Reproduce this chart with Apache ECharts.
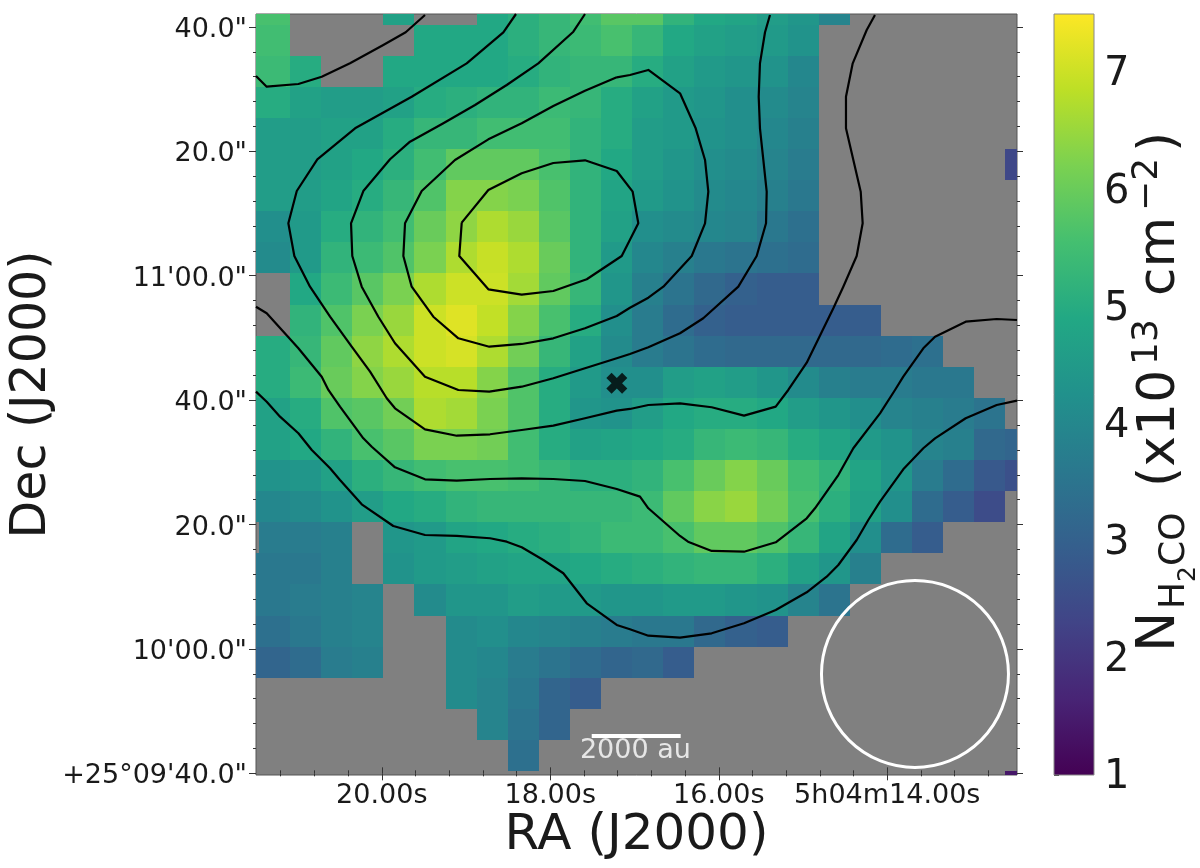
<!DOCTYPE html>
<html><head><meta charset="utf-8">
<style>html,body{margin:0;padding:0;background:#fff}#c{width:1200px;height:868px}</style>
<script src="https://cdn.jsdelivr.net/npm/echarts@6/dist/echarts.min.js"></script>
</head><body><div id="c"></div>
<script>
const _ = null;
// Column density per map pixel; each row runs from the east edge (left) to the west edge (right).
const row00=[5.6,5.6,_,_,_,4.7,_,_,4.9,5.1,5.3,5.5,5.8,5.8,5.2,4.9,4.8,4.6,4.4,3.9,_,_,_,_,_,_];
const row01=[5.5,5.5,_,_,_,_,4.9,4.9,4.9,5.1,5.3,5.4,5.6,5.3,4.9,4.7,4.6,4.5,4.3,_,_,_,_,_,_,_];
const row02=[5.4,5.4,5.0,_,_,4.9,4.9,4.9,4.9,5.0,5.2,5.3,5.3,5.0,4.7,4.5,4.4,4.3,4.0,_,_,_,_,_,_,_];
const row03=[5.0,5.0,4.7,4.6,4.6,4.7,5.0,5.1,5.2,5.2,5.4,5.3,5.0,4.7,4.5,4.4,4.2,4.1,3.9,_,_,_,_,_,_,_];
const row04=[4.6,4.6,4.6,4.7,4.7,5.0,5.3,5.3,5.5,5.5,5.5,5.2,5.0,4.6,4.5,4.3,4.2,4.0,3.8,_,_,_,_,_,_,_];
const row05=[4.6,4.6,4.6,4.7,4.9,5.1,5.5,5.9,5.9,5.9,5.6,5.2,4.9,4.6,4.4,4.2,4.1,3.9,3.7,_,_,_,_,_,_,2.4];
const row06=[4.6,4.6,4.6,4.8,5.0,5.3,5.7,6.3,6.3,6.2,5.7,5.2,4.8,4.5,4.3,4.1,4.0,3.8,3.6,_,_,_,_,_,_,_];
const row07=[4.2,4.2,4.5,5.0,5.2,5.5,6.0,6.4,6.7,6.5,5.8,5.2,4.7,4.2,4.1,4.0,3.9,3.6,3.4,_,_,_,_,_,_,_];
const row08=[4.1,4.1,4.5,5.2,5.4,5.7,6.2,6.7,6.95,6.7,6.0,5.2,4.5,4.0,3.8,3.6,3.5,3.4,3.3,_,_,_,_,_,_,_];
const row09=[_,_,4.9,5.4,5.8,6.2,6.7,7.0,7.0,6.6,5.9,5.3,4.4,3.8,3.5,3.2,3.0,2.9,2.9,_,_,_,_,_,_,_];
const row10=[_,_,5.2,5.7,6.2,6.5,7.0,7.2,6.9,6.3,5.6,5.0,4.2,3.7,3.3,3.0,2.9,2.9,2.9,2.9,2.9,_,_,_,_,_];
const row11=[5.0,5.0,5.3,5.9,6.4,6.7,7.0,7.1,6.7,6.1,5.3,4.7,4.1,3.7,3.5,3.3,3.2,3.2,3.2,3.2,3.2,3.3,3.4,_,_,_];
const row12=[5.0,5.0,5.4,6.0,6.3,6.5,6.8,6.8,6.3,5.7,5.0,4.5,4.2,4.2,4.6,4.7,4.6,4.4,4.1,3.8,3.7,3.7,3.6,3.6,_,_];
const row13=[4.7,4.7,5.0,5.7,5.8,6.1,6.7,6.6,6.2,5.7,5.0,4.4,4.3,4.6,4.9,5.0,5.0,4.9,4.6,4.4,4.2,3.9,3.8,3.7,3.5,_];
const row14=[4.7,4.7,4.9,5.2,5.6,5.8,6.2,6.2,6.1,5.5,5.0,4.7,4.8,4.9,5.0,5.3,5.4,5.3,5.0,4.8,4.5,4.3,3.9,3.8,3.2,3.1];
const row15=[4.3,4.3,4.4,4.7,5.1,5.3,5.5,5.6,5.6,5.5,5.3,5.1,5.1,5.2,5.6,6.0,6.3,6.0,5.5,5.2,4.8,4.4,3.7,3.3,2.8,2.6];
const row16=[4.0,4.0,4.1,4.3,4.6,4.9,5.0,5.2,5.3,5.3,5.3,5.3,5.3,5.4,5.9,6.35,6.5,6.1,5.6,5.1,4.7,4.2,3.3,2.9,2.5,_];
const row17=[_,3.7,3.7,3.8,_,4.4,4.5,4.8,4.9,5.0,5.1,5.2,5.4,5.4,5.6,5.9,5.9,5.7,5.3,4.8,4.2,3.3,2.9,_,_,_];
const row18=[3.6,3.6,3.6,3.8,_,4.3,4.5,4.6,4.7,4.8,4.8,4.9,5.0,5.1,5.2,5.3,5.3,5.1,4.7,4.4,3.8,_,_,_,_,_];
const row19=[3.6,3.6,3.7,3.8,3.9,_,4.1,4.4,4.4,4.6,4.5,4.5,4.4,4.4,4.5,4.5,4.4,4.3,3.9,3.5,_,_,_,_,_,_];
const row20=[3.4,3.4,3.6,3.8,3.9,_,_,4.1,4.2,4.0,3.9,3.8,3.7,3.6,3.6,3.2,3.0,2.9,_,_,_,_,_,_,_,_];
const row21=[3.1,3.1,3.3,3.7,3.8,_,_,4.1,4.0,3.7,3.5,3.3,3.1,3.2,2.9,_,_,_,_,_,_,_,_,_,_,_];
const row22=[_,_,_,_,_,_,_,4.1,3.9,3.6,3.1,2.9,_,_,_,_,_,_,_,_,_,_,_,_,_,_];
const row23=[_,_,_,_,_,_,_,_,3.9,3.5,3.1,_,_,_,_,_,_,_,_,_,_,_,_,_,_,_];
const row24=[_,_,_,_,_,_,_,_,_,3.4,_,_,_,_,_,_,_,_,_,_,_,_,_,_,_,_];
const row25=[_,_,_,_,_,_,_,_,_,_,_,_,_,_,_,_,_,_,_,_,_,_,_,_,_,1.4];
const rows=[row00,row01,row02,row03,row04,row05,row06,row07,row08,row09,row10,row11,row12,row13,row14,row15,row16,row17,row18,row19,row20,row21,row22,row23,row24,row25];

// Map pixel layout: [RA seconds, Dec arcsec past 25d09m40s]
const raFirstEdge=21.827, raStep=0.36913, decFirstEdge=125.36, decStep=5;

// Contours, [RA s, Dec offset "]
const contourA=[[19.051,88.53],[18.735,93.78],[18.339,96.47],[17.964,98.12],[17.588,98.56],[17.211,96.84],[17.022,93.51],[16.955,88.43],[17.152,83.17],[17.567,79.43],[17.964,77.55],[18.339,76.95],[18.735,77.82],[19.080,83.17],[19.051,88.53]];
const contourB=[[17.211,111.90],[17.588,109.75],[17.964,107.29],[18.339,104.51],[18.735,101.93],[19.131,98.61],[19.526,93.62],[19.724,88.43],[19.744,83.17],[19.645,78.24],[19.388,73.41],[19.091,69.94],[18.724,68.59],[18.339,69.03],[17.964,69.94],[17.588,71.55],[17.211,73.53],[17.054,74.86],[16.836,76.47],[16.658,78.24],[16.321,83.17],[16.163,88.43],[16.124,93.51],[16.163,98.61],[16.274,103.70],[16.460,109.33],[16.836,113.08],[17.054,112.27],[17.211,111.90]];
const contourC=[[17.588,122.08],[17.726,119.23],[18.142,114.15],[18.517,110.66],[18.893,107.45],[19.269,104.51],[19.665,101.55],[19.902,98.72],[20.219,93.62],[20.365,88.43],[20.350,83.17],[20.238,78.24],[20.041,73.41],[19.843,69.14],[19.487,63.77],[19.091,61.63],[18.724,61.36],[18.339,62.16],[17.964,63.51],[17.588,65.12],[17.211,66.73],[17.054,67.42],[16.836,68.49],[16.460,70.75],[16.184,73.16],[15.768,78.24],[15.550,83.17],[15.439,88.43],[15.431,93.51],[15.471,98.61],[15.511,103.70],[15.526,108.78],[15.511,114.15],[15.451,119.14],[15.392,121.92]];
const contourD=[[18.407,122.08],[18.557,119.14],[18.992,114.15],[19.645,108.78],[20.317,103.70],[20.765,98.72],[21.009,93.62],[21.109,88.43],[21.038,83.17],[20.852,78.24],[20.614,73.41],[20.357,68.59],[20.139,64.57],[19.941,60.30],[19.843,58.69],[19.487,55.31],[19.110,54.28],[18.715,54.51],[18.339,55.20],[17.964,55.89],[17.588,57.08],[17.211,58.31],[17.054,58.58],[16.836,59.22],[16.460,59.49],[16.084,58.85],[15.700,57.50],[15.324,58.95],[15.175,61.63],[14.956,66.02],[14.640,74.76],[14.522,78.24],[14.363,83.17],[14.292,88.43],[14.315,93.51],[14.490,103.70],[14.490,108.78],[14.410,114.15],[14.244,119.51],[14.146,121.92]];
const contourE=[[21.493,112.11],[21.366,110.39],[20.990,110.83],[20.713,112.00],[20.377,114.15],[19.982,117.09],[19.716,119.14],[19.487,121.92]];
const contourF=[[21.493,75.02],[21.366,73.96],[20.990,68.33],[20.713,63.77],[20.634,61.63],[20.496,58.95],[20.219,53.86],[20.119,52.51],[19.843,49.20],[19.487,47.27],[19.110,47.05],[18.715,47.32],[18.339,47.43],[17.964,47.32],[17.588,47.00],[17.211,45.71],[16.935,44.48],[16.836,42.61],[16.460,38.16],[16.365,37.24],[16.084,35.75],[15.700,35.63],[15.324,37.14],[14.956,41.00],[14.858,42.61],[14.581,47.96],[14.403,52.26],[14.086,57.88],[13.908,61.63],[13.810,63.77],[13.572,68.33],[13.433,70.20],[13.069,72.61],[12.701,73.04],[12.460,72.88]];
const contourG=[[21.493,61.36],[21.366,59.75],[21.208,57.34],[20.990,54.67],[20.831,51.98],[20.614,49.04],[20.496,47.16],[20.238,43.25],[19.863,39.76],[19.487,38.32],[19.110,38.16],[18.715,37.79],[18.517,37.24],[18.339,36.34],[18.082,34.30],[17.845,32.16],[17.567,27.34],[17.211,23.85],[17.054,23.16],[16.836,22.13],[16.460,21.81],[16.084,22.51],[15.700,24.12],[15.324,26.26],[14.956,29.10],[14.719,31.61],[14.581,33.49],[14.363,37.51],[14.225,40.73],[14.086,43.67],[13.810,48.88],[13.572,52.26],[13.433,53.86],[13.069,57.08],[12.701,59.22],[12.460,59.91]];
const contours=[contourA,contourB,contourC,contourD,contourE,contourF,contourG];

const crossPoint=[[17.21,62.7]];
const beamPoint=[[13.671,15.97]];
const scaleBarLine=[[17.508,6.0],[16.452,6.0]];
const scaleBarLabelPoint=[[16.99,3.6]];

// Axis ticks
const raExtent=[12.46,21.493], decExtent=[-0.27,122.08];
const raMajor=[20,18,16,14];
const raLabels=['20.00s','18.00s','16.00s','5h04m14.00s'];
const decMajor=[0,20,40,60,80,100,120];
const decLabels=["+25°09'40.0\"","10'00.0\"","20.0\"","40.0\"","11'00.0\"","20.0\"","40.0\""];
const raMinor=[12.8,13.2,13.6,14.4,14.8,15.2,15.6,16.4,16.8,17.2,17.6,18.4,18.8,19.2,19.6,20.4,20.8,21.2];
const decMinor=[4,8,12,16,24,28,32,36,44,48,52,56,64,68,72,76,84,88,92,96,104,108,112,116];
const cbTicks=[1,2,3,4,5,6,7];
const cbRange=[1,7.5];
const viridis=['#440154','#482475','#414487','#355f8d','#2a788e','#21918c','#22a884','#44bf70','#7ad151','#bddf26','#fde725'];

const cells=[];
rows.forEach((r,j)=>r.forEach((v,i)=>{ if(v!==null) cells.push([raFirstEdge-raStep*(i+0.5),decFirstEdge-decStep*(j+0.5),v]); }));

const FONT='"DejaVu Sans"', INK='#1a1a1a', FRAME='#555';
const tickLabelSize=27;

function makeAxis(kind,pos,ticks,len,labels,extra){
  const ext=kind==='x'?raExtent:decExtent;
  const shift=kind==='x'?{}:{verticalAlign:'top',lineHeight:6};
  return Object.assign({type:'value',position:pos,min:ext[0],max:ext[1],inverse:kind==='x',
    axisLine:{show:false},splitLine:{show:false},
    axisTick:{show:true,length:len,customValues:ticks,lineStyle:{color:'#333',width:1}},
    axisLabel:labels?Object.assign({show:true,customValues:ticks,margin:kind==='x'?7:9,fontFamily:FONT,fontSize:tickLabelSize,color:INK,hideOverlap:false,showMinLabel:true,showMaxLabel:true,
      formatter:v=>labels[ticks.indexOf(v)]},shift):{show:false}},extra||{});
}

function rectItem(params,api){
  const a=api.coord([api.value(0)+raStep/2,api.value(1)+decStep/2]);
  const b=api.coord([api.value(0)-raStep/2,api.value(1)-decStep/2]);
  const shape=echarts.graphic.clipRectByRect(
    {x:Math.round(a[0]),y:Math.round(a[1]),width:Math.round(b[0])-Math.round(a[0]),height:Math.round(b[1])-Math.round(a[1])},
    {x:params.coordSys.x,y:params.coordSys.y,width:params.coordSys.width,height:params.coordSys.height});
  return shape&&{type:'rect',shape:shape,style:{fill:api.visual('color')}};
}

function vText(text,x,y,size){
  return {type:'text',x:x,y:y,rotation:Math.PI/2,silent:true,
    style:{text:text,fill:INK,font:size+'px '+FONT,textAlign:'left',textVerticalAlign:'middle',verticalAlign:'middle'}};
}

const option={
  animation:false,
  backgroundColor:'#fff',
  grid:[
    {left:256,top:14,width:761,height:761,show:true,backgroundColor:'#808080',borderColor:FRAME,borderWidth:1,containLabel:false,outerBoundsMode:'none'},
    {left:1054,top:14,width:40,height:761,containLabel:false,outerBoundsMode:'none'}
  ],
  xAxis:[
    makeAxis('x','bottom',raMajor,7,raLabels,{name:'RA (J2000)',nameLocation:'middle',nameGap:36,nameMoveOverlap:false,nameTextStyle:{fontFamily:FONT,fontSize:50,color:INK}}),
    makeAxis('x','top',raMajor,6),
    makeAxis('x','bottom',raMinor,3),
    makeAxis('x','top',raMinor,3),
    {type:'value',gridIndex:1,min:0,max:1,show:false}
  ],
  yAxis:[
    makeAxis('y','left',decMajor,7,decLabels,{name:'Dec (J2000)',nameLocation:'middle',nameGap:199,nameMoveOverlap:false,nameTextStyle:{fontFamily:FONT,fontSize:49,color:INK}}),
    makeAxis('y','right',decMajor,6),
    makeAxis('y','left',decMinor,3),
    makeAxis('y','right',decMinor,3),
    {type:'value',gridIndex:1,position:'right',min:cbRange[0],max:cbRange[1],
      axisLine:{show:false},splitLine:{show:false},
      axisTick:{show:true,length:5,customValues:cbTicks,lineStyle:{color:'#333'}},
      axisLabel:{show:true,customValues:cbTicks,margin:10,fontFamily:FONT,fontSize:40,color:INK,verticalAlign:'top',lineHeight:5,formatter:v=>String(v)}}
  ],
  visualMap:{show:false,type:'continuous',min:cbRange[0],max:cbRange[1],dimension:2,seriesIndex:0,inRange:{color:viridis}},
  series:[
    {type:'custom',name:'N(H2CO)',xAxisIndex:0,yAxisIndex:0,clip:true,data:cells,encode:{x:0,y:1},renderItem:rectItem,z:1},
  ].concat(contours.map(c=>({type:'line',xAxisIndex:0,yAxisIndex:0,data:c,showSymbol:false,symbol:'none',smooth:false,clip:true,z:2,
      lineStyle:{color:'#000',width:2.2,join:'round'}}))).concat([
    {type:'scatter',xAxisIndex:0,yAxisIndex:0,data:crossPoint,z:3,symbolSize:21,
      symbol:'path://M5,0 L10,5 L15,0 L20,5 L15,10 L20,15 L15,20 L10,15 L5,20 L0,15 L5,10 L0,5Z',itemStyle:{color:'#000'}},
    {type:'scatter',xAxisIndex:0,yAxisIndex:0,data:beamPoint,z:3,symbol:'circle',symbolSize:187,
      itemStyle:{color:'rgba(0,0,0,0)',borderColor:'#fff',borderWidth:3,opacity:1}},
    {type:'line',xAxisIndex:0,yAxisIndex:0,data:scaleBarLine,showSymbol:false,symbol:'none',z:3,lineStyle:{color:'#fff',width:4}},
    {type:'scatter',xAxisIndex:0,yAxisIndex:0,data:scaleBarLabelPoint,symbolSize:1,z:3,itemStyle:{color:'rgba(0,0,0,0)'},
      label:{show:true,position:'inside',formatter:'2000 au',fontFamily:FONT,fontSize:27,color:'#fff'}},
    {type:'custom',xAxisIndex:4,yAxisIndex:4,data:[[0,cbRange[0],cbRange[1]]],encode:{y:[1,2]},
      renderItem:function(params,api){
        const a=api.coord([0,api.value(2)]), b=api.coord([1,api.value(1)]);
        const stops=viridis.map((c,i)=>({offset:1-i/(viridis.length-1),color:c})).reverse();
        return {type:'rect',shape:{x:a[0],y:a[1],width:b[0]-a[0],height:b[1]-a[1]},
          style:{fill:new echarts.graphic.LinearGradient(0,0,0,1,stops),stroke:'#888',lineWidth:1}};
      }}
  ]),
  graphic:[
    vText('N',1160,652,54),
    vText('H',1175,609,36),
    vText('2',1188,582,25),
    vText('CO',1175,566,36),
    vText('(x10',1160,487,52),
    vText('13',1148,365,36),
    vText('cm',1160,296,52),
    vText('−2',1148,211,36),
    vText(')',1160,152,52)
  ]
};
const chart=echarts.init(document.getElementById('c'),null,{renderer:'canvas'});
chart.setOption(option);
</script></body></html>
